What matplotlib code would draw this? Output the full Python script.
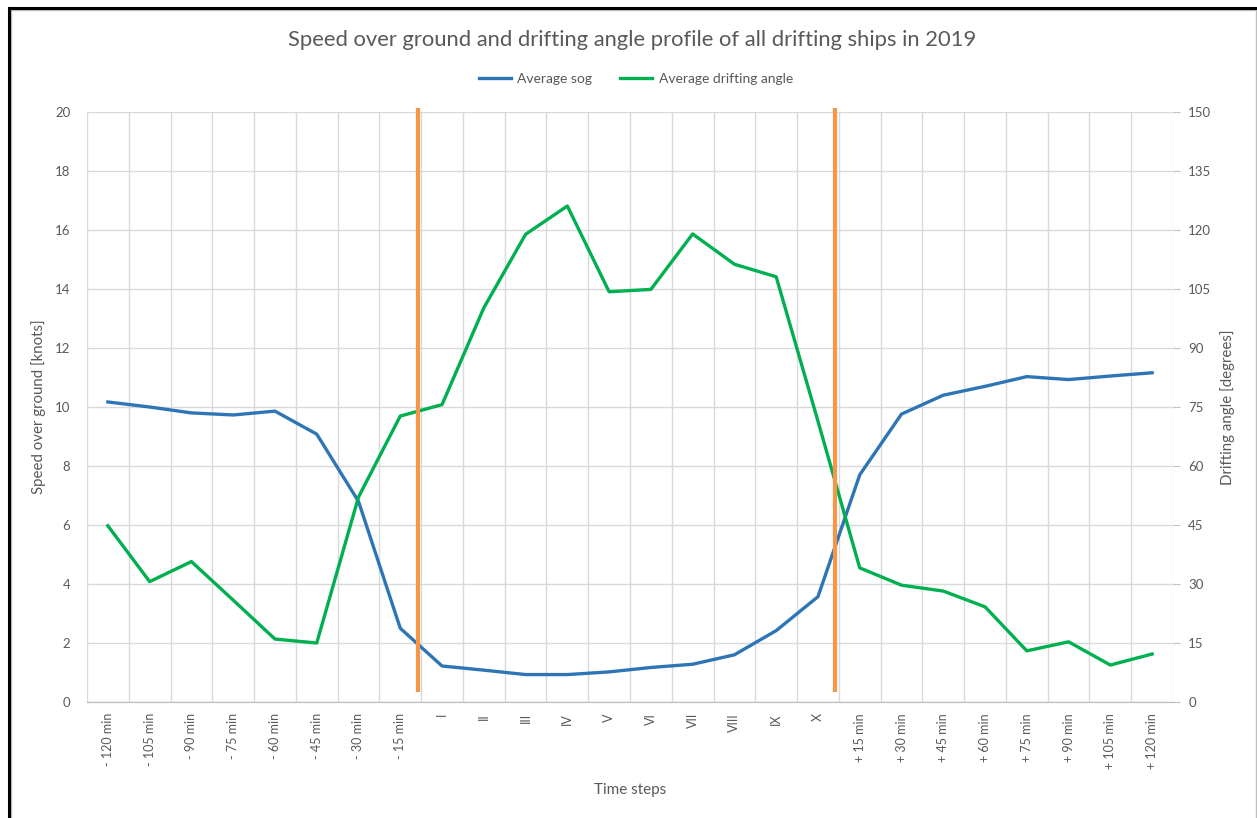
import matplotlib.pyplot as plt
import numpy as np
from matplotlib.ticker import MultipleLocator, FixedLocator
from matplotlib.patches import Rectangle
from matplotlib.lines import Line2D

# categories on the time axis
time_steps = ["- 120 min", "- 105 min", "- 90 min", "- 75 min", "- 60 min", "- 45 min",
              "- 30 min", "- 15 min", "I", "II", "III", "IV", "V", "VI", "VII", "VIII",
              "IX", "X", "+ 15 min", "+ 30 min", "+ 45 min", "+ 60 min", "+ 75 min",
              "+ 90 min", "+ 105 min", "+ 120 min"]

# average speed over ground [knots]
avg_sog = [10.17, 10.0, 9.8, 9.73, 9.86, 9.08, 6.8, 2.5, 1.22, 1.08, 0.93, 0.93, 1.02,
           1.17, 1.28, 1.6, 2.42, 3.57, 7.7, 9.76, 10.4, 10.7, 11.03, 10.93, 11.05, 11.16]

# average drifting angle [degrees]
avg_angle = [44.8, 30.6, 35.7, 25.9, 16.0, 15.0, 52.1, 72.7, 75.6, 100.2, 118.9, 126.1,
             104.3, 104.9, 119.0, 111.3, 108.1, 71.4, 34.1, 29.7, 28.2, 24.2, 13.0, 15.3,
             9.4, 12.2]

# orange separators (category position, knots range)
sep_x = [7.42, 17.41]
sep_y = [0.33, 20.15]

GRAY = "#595959"
FONT = "Lato"

fig = plt.figure(figsize=(12.57, 8.18), dpi=100)
ax = fig.add_axes([87 / 1257, 1 - 702 / 818, (1173 - 87) / 1257, (702 - 112) / 818])
ax2 = ax.twinx()

x = np.arange(len(time_steps))

ax.plot(x, avg_sog, color="#2E75B6", lw=2.4, label="Average sog", zorder=3)
ax2.plot(x, avg_angle, color="#00B050", lw=2.4, label="Average drifting angle", zorder=3)
for sx in sep_x:
    ax2.plot([sx, sx], [sep_y[0] * 7.5, sep_y[1] * 7.5], color="#F79646", lw=3,
             clip_on=False, zorder=4, solid_capstyle="butt")

ax.set_xlim(-0.5, len(time_steps) - 0.5)
ax.set_ylim(0, 20)
ax2.set_ylim(0, 150)
ax.yaxis.set_major_locator(MultipleLocator(2))
ax2.yaxis.set_major_locator(MultipleLocator(15))

ax.set_xticks(x)
ax.set_xticklabels(time_steps, rotation=90, fontsize=9, color=GRAY, family=FONT)
ax.xaxis.set_minor_locator(FixedLocator(np.arange(-0.5, len(time_steps), 1.0)))
ax.tick_params(axis="x", which="both", length=0, pad=8)
ax.tick_params(axis="y", length=0, labelsize=9.5, labelcolor=GRAY, pad=12)
ax2.tick_params(axis="y", length=5, color="#bfbfbf", labelsize=9.5, labelcolor=GRAY, pad=6)
for lab in ax.get_yticklabels() + ax2.get_yticklabels():
    lab.set_family(FONT)

ax.grid(True, which="minor", axis="x", color="#d9d9d9", lw=1)
ax.grid(True, which="major", axis="y", color="#d9d9d9", lw=1)
ax.set_axisbelow(True)

for a in (ax, ax2):
    for s in ("top", "left", "right"):
        a.spines[s].set_visible(False)
    a.spines["bottom"].set_color("#bfbfbf")

ax.set_ylabel("Speed over ground [knots]", fontsize=10.8, color=GRAY, family=FONT, labelpad=6)
ax2.set_ylabel("Drifting angle [degrees]", fontsize=10.8, color=GRAY, family=FONT, labelpad=6)
ax.set_xlabel("Time steps", fontsize=11, color=GRAY, family=FONT, labelpad=10)

fig.text(0.503, 1 - 40 / 818, "Speed over ground and drifting angle profile of all drifting ships in 2019",
         ha="center", va="center", fontsize=15.8, color=GRAY, family=FONT)

h1, l1 = ax.get_legend_handles_labels()
h2, l2 = ax2.get_legend_handles_labels()
fig.legend(h1 + h2, l1 + l2, loc="center", bbox_to_anchor=(636 / 1257, 1 - 79 / 818), ncol=2,
           frameon=False, prop={"family": FONT, "size": 10}, labelcolor=GRAY,
           handlelength=2.3, columnspacing=2.0, handletextpad=0.5)

# chart frame: light gray box plus dark lines on left and top
fig.add_artist(Rectangle((11 / 1257, -0.01), 1245 / 1257, 1 - 10 / 818 + 0.01,
                         transform=fig.transFigure, fill=False, edgecolor="#bfbfbf", lw=1))
fig.add_artist(Line2D([9 / 1257, 9 / 1257], [0, 1 - 8 / 818], transform=fig.transFigure,
                      color="black", lw=2.2))
fig.add_artist(Line2D([9 / 1257, 1], [1 - 8 / 818, 1 - 8 / 818], transform=fig.transFigure,
                      color="black", lw=2.2))

fig.savefig("out.png", dpi=100)
